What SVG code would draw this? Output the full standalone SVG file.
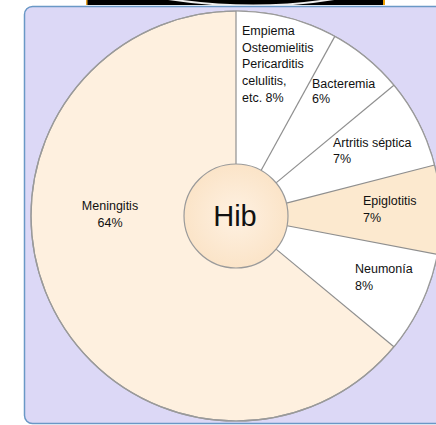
<svg xmlns="http://www.w3.org/2000/svg" width="436" height="425" viewBox="0 0 436 425">
<style>
.t{font-family:"Liberation Sans",Arial,sans-serif;font-size:12.5px;fill:#111}
.div{stroke:#8f8f8f;stroke-width:1.2;fill:none}
</style>
<defs>
<radialGradient id="hg" cx="0.5" cy="0.5" r="0.5">
<stop offset="0" stop-color="#FEF1E2"/>
<stop offset="1" stop-color="#FBE4C8"/>
</radialGradient>
<clipPath id="band"><rect x="86" y="0" width="299" height="5"/></clipPath>
</defs>
<rect width="436" height="425" fill="#fff"/>
<g id="banner">
<rect x="86" y="0" width="299" height="5" fill="#000"/>
<path d="M150,-4 Q250,14 340,-2" stroke="#eee" stroke-width="2" fill="none" clip-path="url(#band)"/>
<rect x="86" y="0" width="1.5" height="5" fill="#E8A020"/>
<rect x="383" y="0" width="2" height="5" fill="#F0A000"/>
</g>
<rect id="panel" x="24.5" y="6.5" width="420" height="417" rx="8" fill="#DCD8F6" stroke="#6A98C6" stroke-width="1.5"/>
<g id="pie">
<circle id="meningitis-slice" cx="236" cy="216" r="205" fill="#FEF0DF" stroke="#9a9a9a" stroke-width="1.2"/>
<path id="white-slices" d="M236,216 L236,11 A205,205 0 0 1 393.9,346.7 Z" fill="#fff"/>
<path id="epiglotitis-slice" d="M236,216 L434.6,165 A205,205 0 0 1 437.4,254.4 Z" fill="#FCE9CF"/>
<circle cx="236" cy="216" r="205" fill="none" stroke="#9a9a9a" stroke-width="1.2"/>
</g>
<g id="connectors">
<line class="div" x1="236" y1="164" x2="236" y2="11"/>
<line class="div" x1="261.05" y1="170.43" x2="334.8" y2="36.4"/>
<line class="div" x1="276.07" y1="182.86" x2="393.9" y2="85.3"/>
<line class="div" x1="286.37" y1="203.07" x2="434.6" y2="165"/>
<line class="div" x1="287.08" y1="225.74" x2="437.4" y2="254.4"/>
<line class="div" x1="276.07" y1="249.14" x2="393.9" y2="346.7"/>
</g>
<g id="hib">
<circle cx="236" cy="216" r="52" fill="url(#hg)" stroke="#9a9a9a" stroke-width="1.2"/>
<text x="235" y="226" font-family="Liberation Sans,Arial,sans-serif" font-size="29" text-anchor="middle" fill="#111">Hib</text>
</g>
<g id="label-empiema">
<text class="t" x="242" y="35">Empiema</text>
<text class="t" x="242" y="52">Osteomielitis</text>
<text class="t" x="242" y="68">Pericarditis</text>
<text class="t" x="242" y="85">celulitis,</text>
<text class="t" x="242" y="102">etc. 8%</text>
</g>
<g id="label-bacteremia">
<text class="t" x="312" y="88">Bacteremia</text>
<text class="t" x="312" y="103">6%</text>
</g>
<g id="label-artritis">
<text class="t" x="333" y="147">Artritis séptica</text>
<text class="t" x="333" y="163">7%</text>
</g>
<g id="label-epiglotitis">
<text class="t" x="363" y="205">Epiglotitis</text>
<text class="t" x="363" y="222">7%</text>
</g>
<g id="label-neumonia">
<text class="t" x="355" y="273">Neumonía</text>
<text class="t" x="355" y="290">8%</text>
</g>
<g id="label-meningitis">
<text class="t" x="110" y="210" text-anchor="middle">Meningitis</text>
<text class="t" x="110" y="227" text-anchor="middle">64%</text>
</g>
</svg>
